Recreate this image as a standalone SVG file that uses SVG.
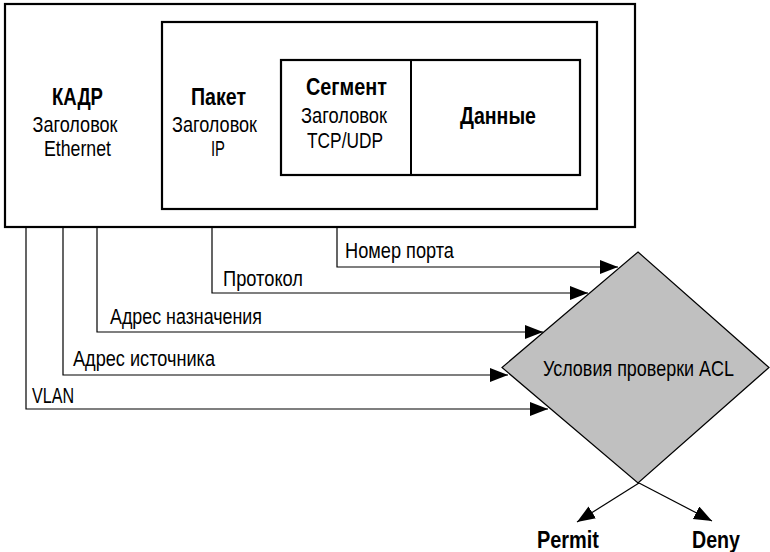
<svg xmlns="http://www.w3.org/2000/svg" width="770" height="552" viewBox="0 0 770 552">
<style>
.box{fill:#fff;stroke:#000;stroke-width:2.2}
.t{font-family:"Liberation Sans",Arial,sans-serif;fill:#000}
.r{font-size:22.5px}
.b{font-size:23px;font-weight:bold}
.l{font-size:21.5px}
.c{fill:none;stroke:#000;stroke-width:1.2}
</style>
<defs>
<marker id="ah" markerUnits="userSpaceOnUse" markerWidth="20" markerHeight="16" refX="18" refY="7" orient="auto">
<path d="M0,0 L18,7 L0,14 Z" fill="#000"/>
</marker>
</defs>
<g id="frame">
<rect class="box" x="5" y="4" width="630" height="223"/>
<text class="t b" x="77.5" y="105" text-anchor="middle" textLength="51" lengthAdjust="spacingAndGlyphs">КАДР</text>
<text class="t r" x="75" y="132" text-anchor="middle" textLength="85" lengthAdjust="spacingAndGlyphs">Заголовок</text>
<text class="t r" x="77.5" y="156" text-anchor="middle" textLength="67" lengthAdjust="spacingAndGlyphs">Ethernet</text>
</g>
<g id="packet">
<rect class="box" x="162" y="22" width="435" height="187"/>
<text class="t b" x="218.5" y="105" text-anchor="middle" textLength="55" lengthAdjust="spacingAndGlyphs">Пакет</text>
<text class="t r" x="214.5" y="132" text-anchor="middle" textLength="85" lengthAdjust="spacingAndGlyphs">Заголовок</text>
<text class="t r" x="218" y="156" text-anchor="middle" textLength="14" lengthAdjust="spacingAndGlyphs">IP</text>
</g>
<g id="segment">
<rect class="box" x="281" y="60" width="299" height="115"/>
<line x1="411" y1="60" x2="411" y2="175" stroke="#000" stroke-width="2"/>
<text class="t b" x="346.5" y="95" text-anchor="middle" textLength="81" lengthAdjust="spacingAndGlyphs">Сегмент</text>
<text class="t r" x="344" y="123" text-anchor="middle" textLength="86" lengthAdjust="spacingAndGlyphs">Заголовок</text>
<text class="t r" x="345" y="148" text-anchor="middle" textLength="76" lengthAdjust="spacingAndGlyphs">TCP/UDP</text>
</g>
<g id="data">
<text class="t b" x="498" y="124" text-anchor="middle" textLength="76" lengthAdjust="spacingAndGlyphs">Данные</text>
</g>
<g id="acl">
<polygon points="638,252 769,367.5 638,483 502,367.5" fill="#c0c0c0" stroke="#000" stroke-width="1.2"/>
<text class="t l" x="638.5" y="376" text-anchor="middle" textLength="191" lengthAdjust="spacingAndGlyphs">Условия проверки ACL</text>
</g>
<g id="permit">
<text class="t b" x="568" y="548" text-anchor="middle" textLength="62" lengthAdjust="spacingAndGlyphs">Permit</text>
</g>
<g id="deny">
<text class="t b" x="716" y="548" text-anchor="middle" textLength="48" lengthAdjust="spacingAndGlyphs">Deny</text>
</g>
<g id="connectors">
<polyline class="c" points="337,227 337,267 618,267" marker-end="url(#ah)"/>
<polyline class="c" points="212,227 212,293 588,293" marker-end="url(#ah)"/>
<polyline class="c" points="97,227 97,332 543,332" marker-end="url(#ah)"/>
<polyline class="c" points="63,227 63,375 508,375" marker-end="url(#ah)"/>
<polyline class="c" points="26,227 26,409 548,409" marker-end="url(#ah)"/>
<line class="c" x1="639" y1="483" x2="577" y2="522" marker-end="url(#ah)"/>
<line class="c" x1="639" y1="483" x2="712" y2="521" marker-end="url(#ah)"/>
<text class="t l" x="345" y="258" textLength="109" lengthAdjust="spacingAndGlyphs">Номер порта</text>
<text class="t l" x="223" y="286" textLength="80" lengthAdjust="spacingAndGlyphs">Протокол</text>
<text class="t l" x="110" y="324" textLength="152" lengthAdjust="spacingAndGlyphs">Адрес назначения</text>
<text class="t l" x="73" y="366" textLength="142" lengthAdjust="spacingAndGlyphs">Адрес источника</text>
<text class="t l" x="32" y="403" textLength="42" lengthAdjust="spacingAndGlyphs">VLAN</text>
</g>
</svg>
